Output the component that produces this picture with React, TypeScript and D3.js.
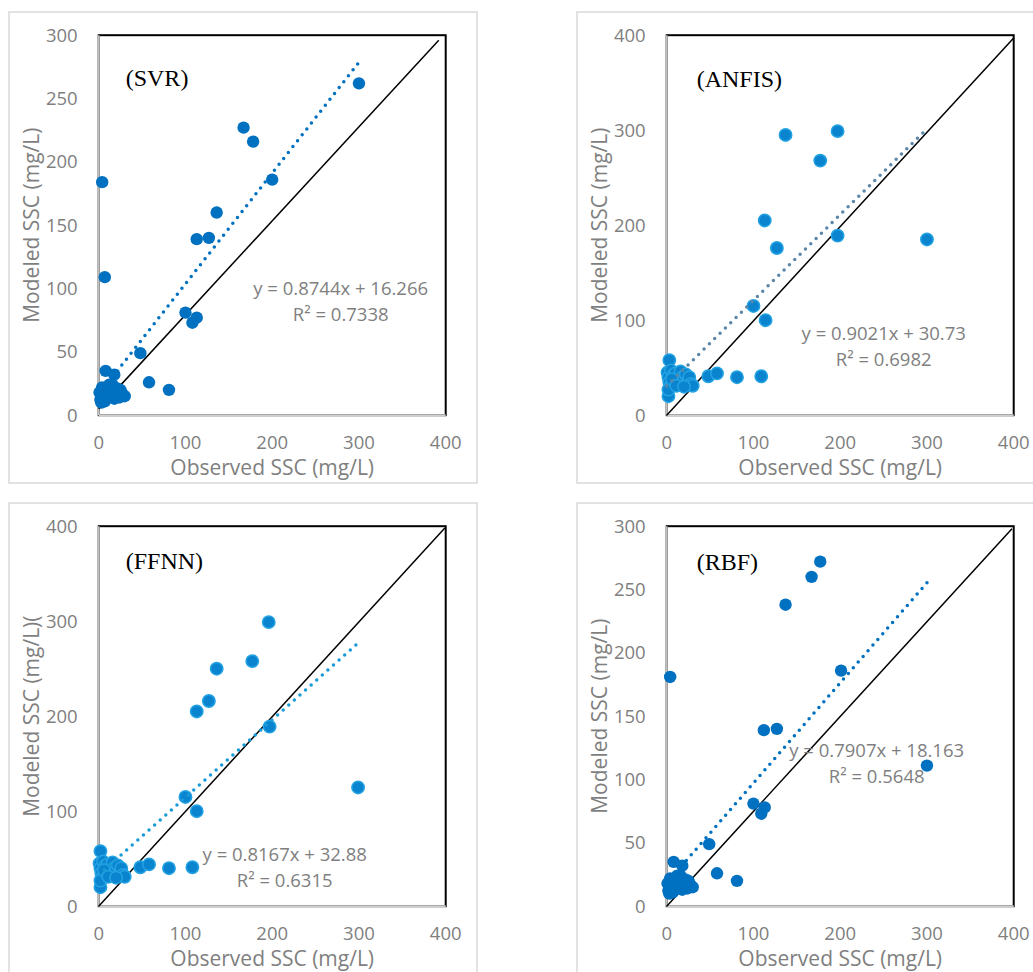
import React from 'react'
import * as d3 from 'd3'

// observed / modeled SSC (mg/L)
const svrPoints: [number, number][] = [
  [300, 262], [167, 227], [178, 216], [200, 186], [136, 160], [113, 139], [127, 140],
  [4, 184], [7, 109], [100, 81], [113, 77], [108, 73], [48, 49], [58, 26], [81, 20],
  [8, 35], [18, 32],
  [2, 12], [3, 15], [1, 18], [4, 22], [6, 20], [5, 13], [8, 17], [10, 22], [12, 15],
  [14, 19], [16, 24], [18, 13], [20, 17], [22, 21], [24, 14], [26, 18], [28, 16],
  [30, 15], [3, 10], [7, 11], [12, 24], [19, 20], [25, 20], [9, 14],
]
const anfisPoints: [number, number][] = [
  [137, 295], [197, 299], [177, 268], [113, 205], [127, 176], [197, 189], [300, 185],
  [100, 115], [114, 100], [48, 41], [58, 44], [81, 40], [109, 41], [3, 58], [2, 20],
  [1, 45], [2, 40], [3, 35], [4, 30], [5, 47], [7, 42], [8, 36], [10, 44], [12, 38],
  [14, 33], [16, 46], [18, 40], [20, 37], [22, 43], [24, 35], [26, 40], [28, 33],
  [30, 31], [2, 27], [6, 38], [11, 31], [20, 30],
]
const ffnnPoints: [number, number][] = [
  [196, 299], [177, 258], [136, 250], [127, 216], [113, 205], [197, 189], [299, 125],
  [100, 115], [113, 100], [48, 41], [58, 44], [81, 40], [108, 41], [2, 58], [2, 20],
  [1, 45], [2, 40], [3, 35], [4, 30], [5, 47], [7, 42], [8, 36], [10, 44], [12, 38],
  [14, 33], [16, 46], [18, 40], [20, 37], [22, 43], [24, 35], [26, 40], [28, 33],
  [30, 31], [2, 27], [6, 38], [11, 31], [20, 30],
]
const rbfPoints: [number, number][] = [
  [177, 272], [167, 260], [137, 238], [201, 186], [4, 181], [112, 139], [127, 140],
  [300, 111], [100, 81], [113, 78], [109, 73], [49, 49], [58, 26], [81, 20],
  [8, 35], [18, 32],
  [2, 12], [3, 15], [1, 18], [4, 22], [6, 20], [5, 13], [8, 17], [10, 22], [12, 15],
  [14, 19], [16, 24], [18, 13], [20, 17], [22, 21], [24, 14], [26, 18], [28, 16],
  [30, 15], [3, 10], [7, 11], [12, 24], [19, 20], [25, 20], [9, 14],
]

const modelNames = ['(SVR)', '(ANFIS)', '(FFNN)', '(RBF)']
const yMaxes = [300, 400, 400, 300]
const slopes = [0.8744, 0.9021, 0.8167, 0.7907]
const intercepts = [16.266, 30.73, 32.88, 18.163]
const equations = ['y = 0.8744x + 16.266', 'y = 0.9021x + 30.73', 'y = 0.8167x + 32.88', 'y = 0.7907x + 18.163']
const r2Labels = ['R² = 0.7338', 'R² = 0.6982', 'R² = 0.6315', 'R² = 0.5648']
// black reference lines as drawn in each panel
const refLines: [number, number][][] = [
  [[0, 5], [392, 296]],
  [[0, 0], [400, 397]],
  [[0, 0], [399, 398]],
  [[0, 0], [398, 298]],
]
const yTitles = ['Modeled SSC (mg/L)', 'Modeled SSC (mg/L)', 'Modeled SSC (mg/L)(', 'Modeled SSC (mg/L)']
const xTitle = 'Observed SSC (mg/L)'
const xTicks = [0, 100, 200, 300, 400]
const trendRange = [0, 300]

// layout (pixels)
const frames = [[9, 12], [577, 12], [9, 503], [577, 503]]
const labelPos = [[27, 51], [30, 52], [27, 43], [30, 44]]
const eqPos = [[242, 260], [217, 305], [186, 335], [210, 231]]
const markerFill = ['#0070C0', '#0a84cf', '#0a84cf', '#0070C0']
const markerStroke = ['#0070C0', '#23a3e3', '#23a3e3', '#0070C0']
const trendColor = ['#0070C0', '#5b87ab', '#1a9ad8', '#0070C0']

const allPoints = [svrPoints, anfisPoints, ffnnPoints, rbfPoints]

const W = 347
const H = 380
const textGray = '#7f7f7f'
const font = '"Open Sans", sans-serif'

const Panel = ({ i }: { i: number }) => {
  const [fx, fy] = frames[i]
  const left = fx + 89.7
  const top = fy + 23.2
  const x = d3.scaleLinear().domain([0, 400]).range([0, W])
  const y = d3.scaleLinear().domain([0, yMaxes[i]]).range([H, 0])
  const yTicks = d3.range(0, yMaxes[i] + 1, yMaxes[i] === 300 ? 50 : 100)
  const line = d3.line<[number, number]>().x(d => x(d[0])).y(d => y(d[1]))
  const trend: [number, number][] = trendRange.map(v => [v, slopes[i] * v + intercepts[i]])
  return (
    <g>
      <rect x={fx} y={fy} width={468} height={471} fill="#fff" stroke="#d9d9d9" strokeWidth={1.5} />
      <g transform={`translate(${left},${top})`}>
        <rect x={0} y={0} width={W} height={H} fill="none" stroke="#000" strokeWidth={2} />
        <line x1={0} y1={0} x2={0} y2={H} stroke="#bfbfbf" strokeWidth={2} />
        <line x1={0} y1={H} x2={W} y2={H} stroke="#d0d0d0" strokeWidth={2} />
        {yTicks.map(t => (
          <text key={t} x={-21} y={y(t)} dy="0.35em" textAnchor="end" fontFamily={font} fontSize={18.5} fill={textGray}>{t}</text>
        ))}
        {xTicks.map(t => (
          <text key={t} x={x(t)} y={H + 34} textAnchor="middle" fontFamily={font} fontSize={18.5} fill={textGray}>{t}</text>
        ))}
        <text x={W / 2} y={H + 60} textAnchor="middle" fontFamily={font} fontSize={21} fill={textGray}>{xTitle}</text>
        <text transform={`translate(${-67},${H / 2}) rotate(-90)`} textAnchor="middle" dy="0.35em" fontFamily={font} fontSize={21} fill={textGray}>{yTitles[i]}</text>
        <path d={line(refLines[i]) || ''} stroke="#000" strokeWidth={1.5} fill="none" />
        {allPoints[i].map((p, k) => (
          <circle key={k} cx={x(p[0])} cy={y(p[1])} r={6.2} fill={markerFill[i]} stroke={markerStroke[i]} strokeWidth={i === 1 || i === 2 ? 1.5 : 0} />
        ))}
        <path d={line(trend) || ''} stroke={trendColor[i]} strokeWidth={3.5} strokeDasharray="0 7.5" strokeLinecap="round" fill="none" />
        <text x={labelPos[i][0]} y={labelPos[i][1]} fontFamily='"Liberation Serif", "Times New Roman", serif' fontSize={24} fill="#000">{modelNames[i]}</text>
        <text x={eqPos[i][0]} y={eqPos[i][1]} textAnchor="middle" fontFamily={font} fontSize={18.5} fill={textGray}>{equations[i]}</text>
        <text x={eqPos[i][0]} y={eqPos[i][1] + 26} textAnchor="middle" fontFamily={font} fontSize={18.5} fill={textGray}>{r2Labels[i]}</text>
      </g>
    </g>
  )
}

const App = () => {
  return (
    <svg width={1033} height={972} style={{ position: 'absolute', left: 0, top: 0, background: '#fff' }}>
      {modelNames.map((m, i) => <Panel key={m} i={i} />)}
    </svg>
  )
}

export default App
